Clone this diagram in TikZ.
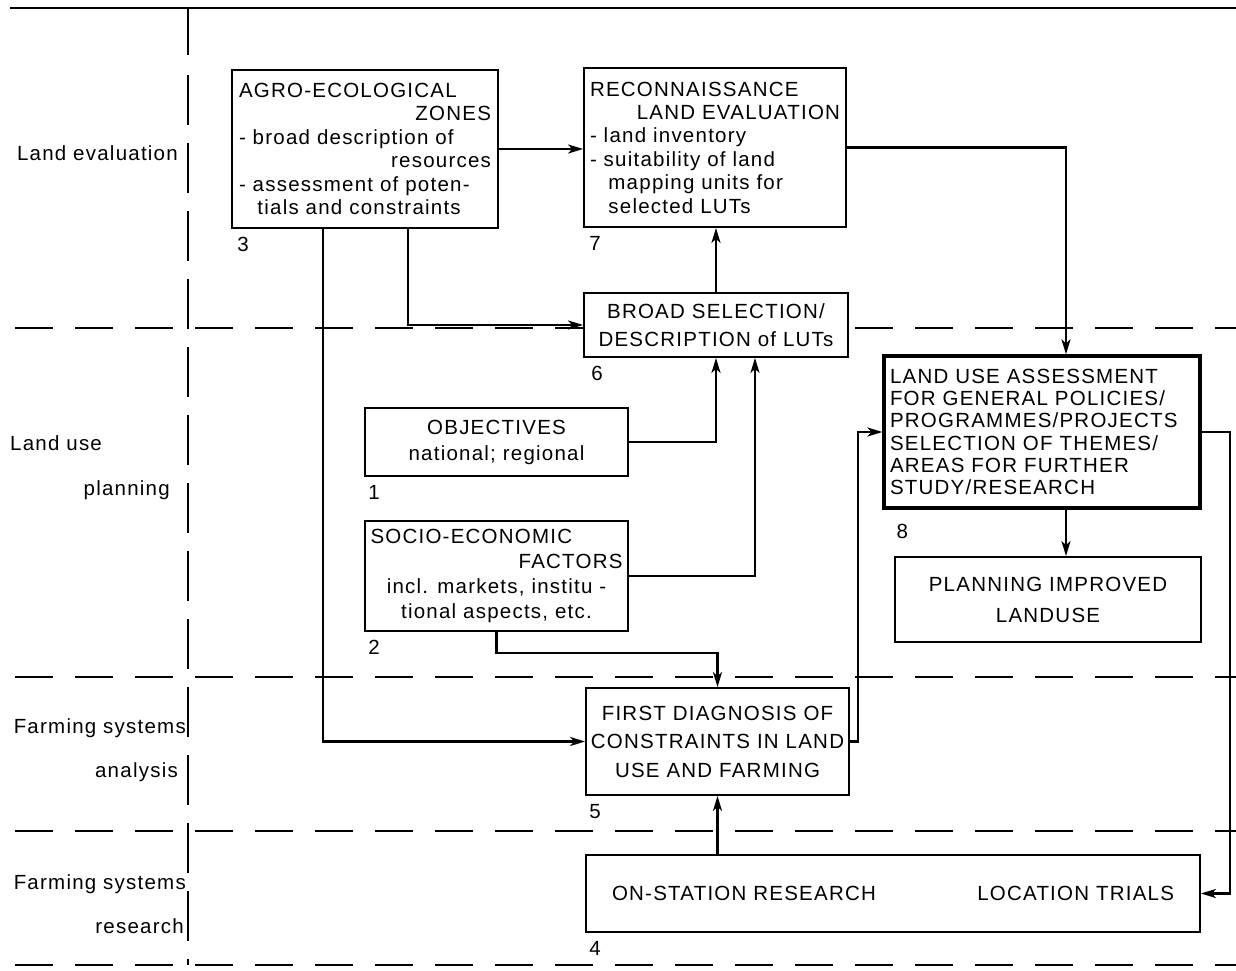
\documentclass[tikz,border=0pt]{standalone}
\usepackage{fontspec}
\setmainfont{Liberation Sans}[LetterSpace=6]
\usetikzlibrary{arrows.meta,calc}
\newcommand\dfont[1]{\fontsize{20.5}{#1}\selectfont}
\begin{document}
\begin{tikzpicture}[x=1pt,y=-1pt,
  box/.style={draw, fill=white, line width=1.8pt, inner sep=0pt},
  thickbox/.style={draw, fill=white, line width=3.2pt, inner sep=0pt},
  arr/.style={line width=2.3pt, -{Stealth[length=15pt,width=9pt,inset=4pt]}},
  lane/.style={line width=1.6pt, dash pattern=on 38pt off 22pt},
  lbl/.style={font=\dfont{24}, inner sep=0pt},
  num/.style={font=\dfont{24}, inner sep=0pt, anchor=north west}]
\useasboundingbox (0,0) rectangle (1236,971);

% frame and lanes
\draw[line width=1.8pt] (10,8) -- (1236,8);
\draw[line width=1.8pt] (188,8) -- (188,55);
\draw[line width=1.8pt, dash pattern=on 50pt off 18pt] (188,75) -- (188,965);
\draw[lane] (15,328) -- (1236,328);
\draw[lane] (15,677) -- (1236,677);
\draw[lane] (15,831) -- (1236,831);
\draw[lane] (15,965) -- (1236,965);

% lane labels
\node[lbl, anchor=east] (l1) at (178,153) {Land evaluation};
\node[lbl, anchor=west] (l2) at (10,443) {Land use};
\node[lbl, anchor=east] (l3) at (170,490) {planning};
\node[lbl, anchor=east] (l4) at (186,728) {Farming systems};
\node[lbl, anchor=east] (l5) at (178,772) {analysis};
\node[lbl, anchor=east] (l6) at (186,884) {Farming systems};
\node[lbl, anchor=east] (l7) at (184,926) {research};

% helper columns / rows
\coordinate (c323) at (323,0);
\coordinate (c408) at (408,0);
\coordinate (c755) at (755,0);
\coordinate (c858) at (858,0);
\coordinate (c1066) at (1066,0);
\coordinate (c1230) at (1230,0);
\coordinate (r653) at (0,653);

% boxes
\node[box, minimum width=266pt, minimum height=158pt] (b3) at (365,149)
  {\parbox{252pt}{\dfont{23.4}AGRO-ECOLOGICAL\\
   \null\hfill ZONES\\
   - broad description of\\
   \null\hfill resources\\
   - assessment of poten-\\
   \hspace*{0.9em}tials and constraints}};
\node[box, minimum width=262pt, minimum height=159pt] (b7) at (715,147.5)
  {\parbox{250pt}{\dfont{23.4}RECONNAISSANCE\\
   \null\hfill LAND EVALUATION\\
   - land inventory\\
   - suitability of land\\
   \hspace*{0.9em}mapping units for\\
   \hspace*{0.9em}selected LUTs}};
\node[box, minimum width=264pt, minimum height=64pt, align=center, font=\dfont{28}] (b6) at (716,325)
  {BROAD SELECTION/\\DESCRIPTION of LUTs};
\node[box, minimum width=263pt, minimum height=68pt, align=center, font=\dfont{26}] (b1) at (496.5,442)
  {OBJECTIVES\\national; regional};
\node[box, minimum width=263pt, minimum height=110pt] (b2) at (496.5,576)
  {\parbox{252pt}{\dfont{25}SOCIO-ECONOMIC\\
   \null\hfill FACTORS\\
   \null\hfill incl. markets, institu -\hfill\null\\
   \null\hfill tional aspects, etc.\hfill\null}};
\node[thickbox, minimum width=316pt, minimum height=152pt] (b8) at (1042,432)
  {\parbox{304pt}{\raggedright\dfont{22.3}LAND USE ASSESSMENT\\
   FOR GENERAL POLICIES/\\
   PROGRAMMES/PROJECTS\\
   SELECTION OF THEMES/\\
   AREAS FOR FURTHER\\
   STUDY/RESEARCH\par}};
\node[box, minimum width=306pt, minimum height=85pt, align=center, font=\dfont{31}] (pl) at (1048,599.5)
  {PLANNING IMPROVED\\LANDUSE};
\node[box, minimum width=263pt, minimum height=107pt, align=center, font=\dfont{28.5}] (b5) at (717.5,741.5)
  {FIRST DIAGNOSIS OF\\CONSTRAINTS IN LAND\\USE AND FARMING};
\node[box, minimum width=614pt, minimum height=77pt] (b4) at (893,893.5)
  {\parbox{562pt}{\dfont{24}ON-STATION RESEARCH\hfill LOCATION TRIALS}};

% numbers
\node[num] (n3) at ([xshift=6pt,yshift=-8pt]b3.south west) {3};
\node[num] (n7) at ([xshift=6pt,yshift=-8pt]b7.south west) {7};
\node[num] (n6) at ([xshift=8pt,yshift=-8pt]b6.south west) {6};
\node[num] (n1) at ([xshift=4pt,yshift=-8pt]b1.south west) {1};
\node[num] (n2) at ([xshift=4pt,yshift=-8pt]b2.south west) {2};
\node[num] (n8) at ([xshift=14pt,yshift=-14pt]b8.south west) {8};
\node[num] (n5) at ([xshift=4pt,yshift=-8pt]b5.south west) {5};
\node[num] (n4) at ([xshift=4pt,yshift=-8pt]b4.south west) {4};

% connectors
\draw[arr] (b3.east) -- (b3.east -| b7.west);
\draw[arr] (c408 |- b3.south) |- (b6.west);
\draw[arr] (c323 |- b3.south) |- (b5.west);
\draw[arr] (b6.north) -- (b6.north |- b7.south);
\draw[arr] (b1.east) -| (b6.south);
\draw[arr] (b2.east) -| (c755 |- b6.south);
\draw[arr] (b2.south) -- (b2.south |- r653) -| (b5.north);
\draw[arr] (b7.east) -| (c1066 |- b8.north);
\draw[arr] (b5.east) -| (c858 |- b8.west) -- (b8.west);
\draw[arr] (c1066 |- b8.south) -- (c1066 |- pl.north);
\draw[arr] (b8.east) -| (c1230 |- b4.east) -- (b4.east);
\draw[arr] (b5.south |- b4.north) -- (b5.south);
\end{tikzpicture}
\end{document}
